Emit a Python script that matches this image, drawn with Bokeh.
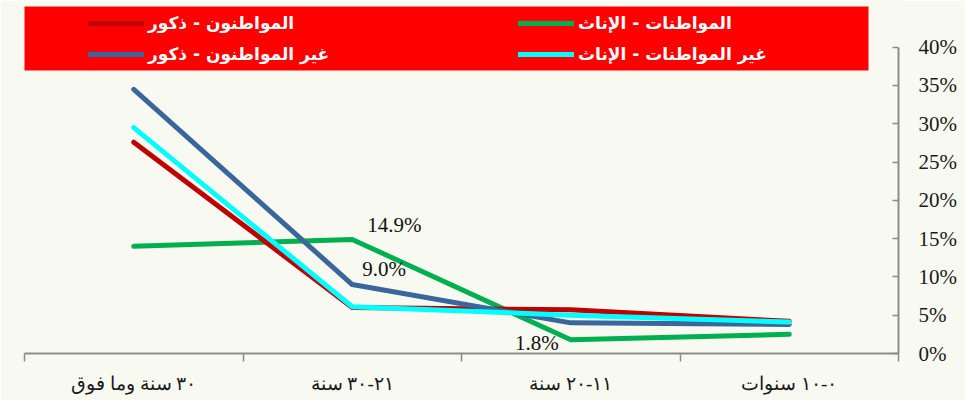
from bokeh.plotting import figure
from bokeh.models import (FactorRange, Range1d, LinearAxis, FixedTicker, PrintfTickFormatter,
                          Legend, LegendItem, BoxAnnotation, ColumnDataSource)
from bokeh.core.properties import value
from bokeh.embed import file_html
from bokeh.resources import INLINE

# ---- data (natural order: youngest duration first) ----
categories = ["٠-١٠ سنوات", "١١-٢٠ سنة", "٢١-٣٠ سنة", "٣٠ سنة وما فوق"]
citizen_males = [4.2, 5.7, 6.0, 27.6]
citizen_females = [2.5, 1.8, 14.9, 14.0]
noncitizen_males = [3.8, 4.0, 9.0, 34.5]
noncitizen_females = [4.1, 5.0, 6.1, 29.5]
series_names = {
    "citizen_males": "المواطنون - ذكور",
    "citizen_females": "المواطنات - الإناث",
    "noncitizen_males": "غير المواطنون - ذكور",
    "noncitizen_females": "غير المواطنات - الإناث",
}
y_ticks = [0, 5, 10, 15, 20, 25, 30, 35, 40]
labelled_points = [("citizen_females", "٢١-٣٠ سنة"),
                   ("noncitizen_males", "٢١-٣٠ سنة"),
                   ("citizen_females", "١١-٢٠ سنة")]

series = {
    "citizen_males": citizen_males,
    "citizen_females": citizen_females,
    "noncitizen_males": noncitizen_males,
    "noncitizen_females": noncitizen_females,
}

# ---- styles ----
colors = {
    "citizen_males": "#C00000",
    "citizen_females": "#00B050",
    "noncitizen_males": "#3A679B",
    "noncitizen_females": "#00FFFF",
}
draw_order = ["citizen_females", "citizen_males", "noncitizen_males", "noncitizen_females"]
legend_order = ["citizen_males", "citizen_females", "noncitizen_males", "noncitizen_females"]
label_style = [(15, -14, "left"), (10, -16, "left"), (-12, 3, "right")]
bg = "#F8F9F0"
axis_gray = "#8C8C8C"

x_factors = list(reversed(categories))  # reference reads right-to-left

p = figure(width=965, height=400,
           x_range=FactorRange(*x_factors, range_padding=0),
           y_range=Range1d(0, 46.1),
           x_axis_location=None, y_axis_location="right",
           output_backend="svg", toolbar_location=None,
           min_border_left=24, min_border_right=67, min_border_top=0, min_border_bottom=47,
           background_fill_color=bg, border_fill_color=bg, outline_line_color=None)
p.grid.visible = False

# right y axis
ya = p.yaxis[0]
ya.ticker = FixedTicker(ticks=y_ticks)
ya.formatter = PrintfTickFormatter(format="%d%%")
ya.bounds = (y_ticks[0], y_ticks[-1])
ya.major_label_text_font = "Liberation Serif"
ya.major_label_text_font_size = "21px"
ya.major_label_text_color = "#1A1A1A"
ya.major_label_standoff = 20
ya.axis_line_color = axis_gray
ya.axis_line_width = 2
ya.major_tick_line_color = axis_gray
ya.major_tick_line_width = 1.5
ya.major_tick_in = 6
ya.major_tick_out = 0
ya.minor_tick_line_color = None

# bottom axis on the factor range's synthetic coordinates:
# labels at category centres, tick marks at category boundaries
n = len(x_factors)
centres = [i + 0.5 for i in range(n)]
xa = LinearAxis(ticker=FixedTicker(ticks=centres, minor_ticks=list(range(n + 1))),
                major_label_overrides={c: f for c, f in zip(centres, x_factors)})
xa.major_tick_line_color = None
xa.major_tick_out = 0
xa.major_tick_in = 0
xa.minor_tick_line_color = axis_gray
xa.minor_tick_line_width = 1.5
xa.minor_tick_out = 8
xa.minor_tick_in = 0
xa.axis_line_color = axis_gray
xa.axis_line_width = 2
xa.major_label_text_font = "Liberation Serif"
xa.major_label_text_font_size = "19px"
xa.major_label_text_color = "#1A1A1A"
xa.major_label_standoff = 11
p.add_layout(xa, "below")

# red legend panel
p.add_layout(BoxAnnotation(left=6, right=868, top=6, bottom=70,
                           left_units="canvas", right_units="canvas",
                           top_units="canvas", bottom_units="canvas",
                           fill_color="#FF0000", fill_alpha=1, line_color=None,
                           level="underlay"))

renderers = {}
for key in draw_order:
    renderers[key] = p.line(x=categories, y=series[key], line_color=colors[key],
                            line_width=5, line_cap="round", line_join="round")

for (key, cat), (dx, dy, align) in zip(labelled_points, label_style):
    v = series[key][categories.index(cat)]
    src = ColumnDataSource(dict(x=[cat], y=[v], t=[f"{v:.1f}%"]))
    p.text(x="x", y="y", text="t", source=src, x_offset=dx, y_offset=dy,
           text_align=align, text_baseline="middle",
           text_font=value("Liberation Serif"), text_font_size="21px", text_color="#111111")

legend = Legend(items=[LegendItem(label=series_names[k], renderers=[renderers[k]]) for k in legend_order],
                location=(64, 289), orientation="horizontal", ncols=2,
                glyph_width=56, glyph_height=20, label_width=359, label_height=20,
                label_standoff=4, spacing=11, padding=4, margin=0,
                background_fill_alpha=0, border_line_color=None,
                label_text_color="white", label_text_font="DejaVu Sans",
                label_text_font_style="bold", label_text_font_size="17px")
p.add_layout(legend)

open("out.html", "w").write(file_html(p, INLINE))
